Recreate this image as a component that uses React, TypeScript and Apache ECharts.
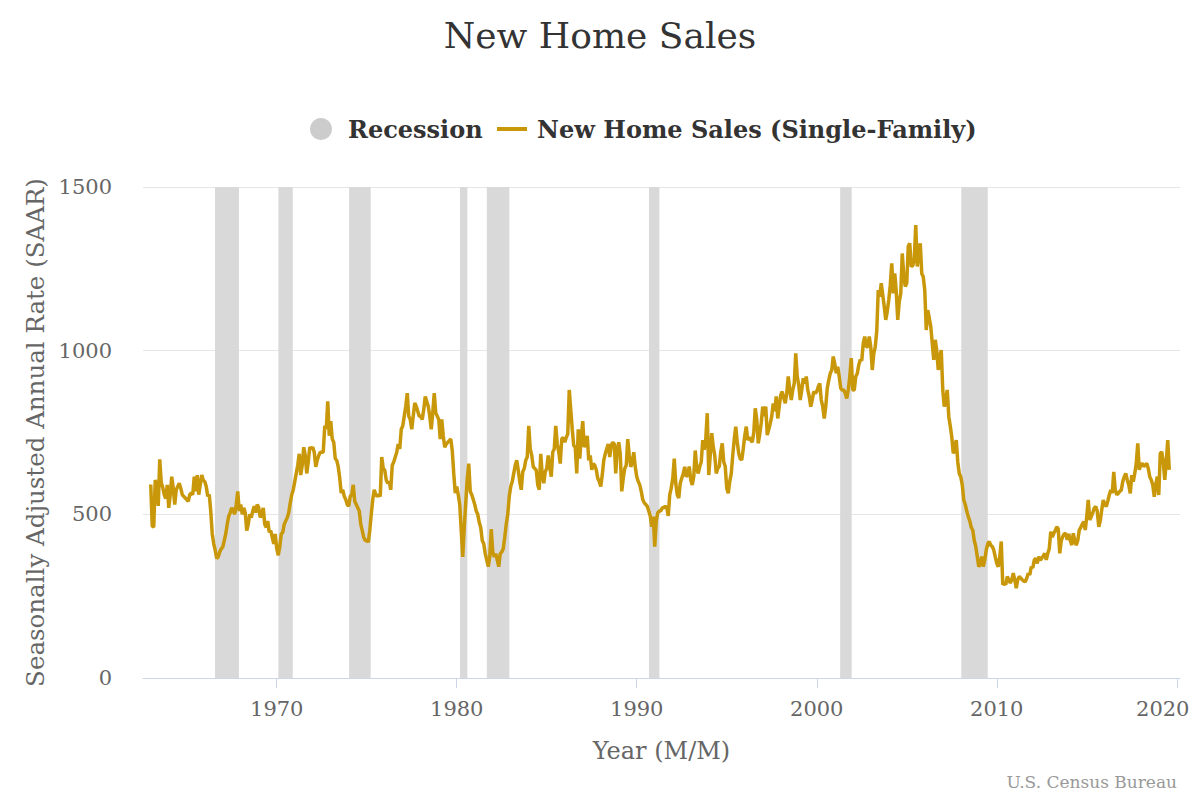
import React, { useEffect, useRef } from "react";
import * as echarts from "echarts";

const FIRST_YEAR = 1963;

const sales1960s = [
  591, 464, 461, 605, 586, 526, 668, 597, 582, 560, 548, 590,
  520, 560, 615, 580, 530, 575, 585, 595, 580, 560, 555, 550,
  545, 540, 560, 565, 560, 615, 570, 620, 560, 590, 620, 605,
  600, 585, 555, 560, 510, 440, 410, 390, 365, 370, 385, 395,
  400, 420, 440, 470, 495, 505, 520, 510, 500, 530, 570, 510,
  530, 500, 520, 505, 450, 470, 500, 490, 510, 525, 505, 530,
  520, 490, 500, 520, 470, 460, 480, 445, 450, 430, 410, 440,
];
const sales1970s = [
  395, 375, 400, 440, 445, 470, 480, 490, 505, 535, 560, 575,
  600, 625, 650, 685, 620, 650, 705, 680, 625, 660, 705, 700,
  705, 690, 645, 665, 680, 690, 690, 690, 770, 760, 845, 740,
  785, 730, 720, 670, 665, 645, 610, 565, 575, 555, 545, 530,
  525, 555, 560, 590, 540, 530, 520, 510, 470, 450, 430, 420,
  420, 415, 450, 500, 545, 575, 560, 555, 560, 555, 675, 640,
  635, 605, 595, 600, 575, 650, 660, 675, 690, 715, 700, 760,
  770, 800, 830, 870, 800, 790, 760, 800, 840, 830, 815, 800,
  800, 790, 820, 860, 845, 830, 800, 760, 810, 870, 810, 800,
  790, 730, 790, 740, 705, 715, 720, 725, 730, 695, 625, 565,
];
const sales1980s = [
  585, 560, 530, 450, 370, 460, 535, 610, 655, 570, 560, 545,
  530, 510, 500, 475, 460, 420, 410, 380, 360, 340, 370, 455,
  385, 370, 380, 360, 340, 380, 385, 395, 430, 470, 500, 555,
  585, 600, 625, 650, 665, 635, 600, 575, 630, 640, 665, 675,
  770, 700, 680, 645, 640, 635, 590, 575, 685, 620, 595, 630,
  640, 680, 645, 615, 690, 700, 770, 715, 690, 655, 730, 735,
  720, 735, 745, 880, 820, 760, 710, 705, 625, 760, 670, 735,
  785, 705, 720, 740, 665, 680, 636, 655, 650, 636, 610, 600,
  585, 620, 665, 685, 700, 715, 675, 710, 720, 715, 625, 700,
  720, 685, 570, 610, 640, 650, 730, 680, 645, 660, 690, 645,
];
const sales1990s = [
  615, 600, 590, 570, 545, 535, 530, 525, 510, 495, 462, 493,
  401, 480, 505, 510, 510, 520, 520, 525, 520, 495, 560, 580,
  610, 670, 595, 560, 550, 595, 610, 625, 645, 615, 620, 646,
  605, 590, 615, 695, 640, 625, 646, 660, 727, 697, 730, 809,
  620, 680, 748, 707, 680, 625, 640, 646, 690, 717, 660, 646,
  580, 564, 600, 625, 680, 730, 768, 720, 686, 670, 666, 700,
  740, 768, 727, 735, 727, 720, 750, 824, 790, 717, 745, 780,
  829, 800, 829, 742, 760, 778, 800, 839, 815, 860, 793, 830,
  865, 875, 855, 839, 870, 921, 880, 849, 880, 900, 992, 921,
  895, 849, 880, 916, 900, 921, 880, 860, 829, 850, 875, 870,
];
const sales2000s = [
  875, 890, 900, 850, 829, 793, 830, 885, 910, 931, 940, 982,
  960, 931, 951, 920, 885, 880, 880, 870, 854, 880, 920, 977,
  880, 880, 921, 930, 956, 972, 970, 1022, 1043, 1012, 1012, 1043,
  1012, 941, 990, 1012, 1060, 1185, 1165, 1206, 1170, 1135, 1094, 1120,
  1155, 1200, 1267, 1175, 1236, 1180, 1094, 1150, 1175, 1297, 1230, 1196,
  1206, 1318, 1328, 1257, 1260, 1277, 1384, 1257, 1300, 1328, 1236, 1226,
  1185, 1063, 1124, 1100, 1074, 1022, 972, 1033, 1000, 941, 980, 1002,
  880, 829, 850, 880, 799, 770, 737, 686, 700, 727, 660, 625,
  615, 590, 544, 530, 510, 493, 480, 460, 452, 420, 402, 371,
  340, 350, 371, 340, 360, 391, 410, 417, 405, 402, 391, 370,
];
const sales2010s = [
  350, 340, 370, 417, 285, 290, 285, 310, 300, 290, 300, 320,
  300, 274, 300, 310, 305, 300, 296, 294, 305, 320, 315, 340,
  336, 360, 366, 350, 371, 360, 366, 373, 381, 361, 380, 395,
  447, 430, 442, 450, 462, 455, 381, 420, 432, 440, 442, 422,
  440, 420, 406, 442, 420, 406, 420, 452, 460, 470, 478, 452,
  493, 544, 483, 493, 505, 519, 524, 510, 462, 480, 514, 544,
  530, 524, 540, 559, 574, 565, 630, 574, 560, 564, 570, 574,
  600, 615, 625, 605, 590, 564, 620, 600, 625, 656, 717, 636,
  650, 656, 646, 650, 656, 640, 615, 605, 590, 554, 590, 615,
  559, 686, 691, 660, 605, 660, 727, 636,
];

const recessionStart = [1966.57, 1970.09, 1974.02, 1980.18, 1981.67, 1990.68, 2001.3, 2008.03];
const recessionEnd = [1967.9, 1970.89, 1975.22, 1980.59, 1982.92, 1991.26, 2001.94, 2009.5];

const yearTicks = [1970, 1980, 1990, 2000, 2010, 2020];

const FONT = "DejaVu Serif";
const GOLD = "#c9980a";

export default function App() {
  const ref = useRef<HTMLDivElement>(null);
  useEffect(() => {
    const chart = echarts.init(ref.current!, null, { renderer: "svg" });
    const all = [...sales1960s, ...sales1970s, ...sales1980s, ...sales1990s, ...sales2000s, ...sales2010s];
    const data = all.map((v, i) => [FIRST_YEAR + i / 12, v]);
    const bands = recessionStart.map((s, i) => [{ xAxis: s }, { xAxis: recessionEnd[i] }]);
    const lastYear = yearTicks[yearTicks.length - 1];
    chart.setOption({
      animation: false,
      backgroundColor: "#ffffff",
      textStyle: { fontFamily: FONT },
      title: {
        text: "New Home Sales",
        left: "center",
        top: 12,
        textStyle: { fontFamily: FONT, fontSize: 36, fontWeight: "normal", color: "#333333" },
      },
      grid: { left: 143, right: 20, top: 187, bottom: 122, containLabel: false, outerBoundsMode: "none" },
      xAxis: {
        type: "value",
        min: 1962.57,
        max: 2020.18,
        name: "Year (M/M)",
        nameLocation: "middle",
        nameGap: 61,
        nameTextStyle: { fontFamily: FONT, fontSize: 24, color: "#666666" },
        axisLine: { show: true, lineStyle: { color: "#ccd6eb", width: 1 } },
        axisTick: { show: true, length: 10, lineStyle: { color: "#ccd6eb" }, customValues: yearTicks },
        axisLabel: {
          customValues: yearTicks,
          margin: 20,
          fontFamily: FONT,
          fontSize: 21,
          color: "#666666",
          formatter: (v: number) => {
            const y = Math.round(v);
            return y === lastYear ? "{last|" + y + "}" : String(y);
          },
          rich: {
            last: { fontFamily: FONT, fontSize: 21, color: "#666666", padding: [0, 28, 0, 0] },
          },
        },
        splitLine: { show: false },
      },
      yAxis: {
        type: "value",
        min: 0,
        max: 1500,
        interval: 500,
        name: "Seasonally Adjusted Annual Rate (SAAR)",
        nameLocation: "middle",
        nameGap: 75,
        nameTextStyle: { fontFamily: FONT, fontSize: 24.5, color: "#666666" },
        axisLine: { show: false },
        axisTick: { show: false },
        axisLabel: {
          margin: 31,
          fontFamily: FONT,
          fontSize: 21,
          color: "#666666",
          formatter: (v: number) => String(v),
        },
        splitLine: { lineStyle: { color: "#e6e6e6", width: 1 } },
      },
      series: [
        {
          name: "Recession",
          type: "line",
          data: [],
          silent: true,
          markArea: {
            silent: true,
            itemStyle: { color: "#d9d9d9" },
            data: bands,
          },
        },
        {
          name: "New Home Sales (Single-Family)",
          type: "line",
          data,
          showSymbol: false,
          symbol: "none",
          lineStyle: { color: GOLD, width: 3.5 },
          itemStyle: { color: GOLD },
          z: 5,
        },
      ],
      graphic: [
        { type: "circle", shape: { cx: 321, cy: 129, r: 11 }, style: { fill: "#cccccc" } },
        {
          type: "text",
          x: 348,
          y: 129,
          style: { text: "Recession", fontFamily: FONT, fontSize: 24, fontWeight: "bold", fill: "#333333", verticalAlign: "middle", align: "left" },
        },
        { type: "line", shape: { x1: 497, y1: 129, x2: 527, y2: 129 }, style: { stroke: GOLD, lineWidth: 4 } },
        {
          type: "text",
          x: 537,
          y: 129,
          style: { text: "New Home Sales (Single-Family)", fontFamily: FONT, fontSize: 24, fontWeight: "bold", fill: "#333333", verticalAlign: "middle", align: "left" },
        },
        {
          type: "text",
          x: 1177,
          y: 782,
          style: { text: "U.S. Census Bureau", fontFamily: FONT, fontSize: 17, fill: "#999999", verticalAlign: "middle", align: "right" },
        },
      ],
    });
    return () => chart.dispose();
  }, []);
  return <div ref={ref} style={{ position: "fixed", left: 0, top: 0, width: 1200, height: 800 }} />;
}
